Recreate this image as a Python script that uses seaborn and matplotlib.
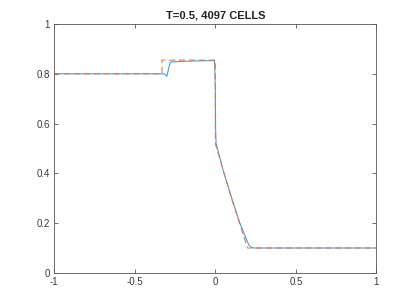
import matplotlib
matplotlib.use("Agg")
import matplotlib.pyplot as plt
import seaborn as sns
import pandas as pd

# numerical solution (4097 cells)
num_x = [-1.0, -0.32, -0.31, -0.305, -0.30, -0.29, -0.28, -0.27, -0.2, -0.1, -0.005,
         0.0, 0.002, 0.005, 0.05, 0.1, 0.15, 0.19, 0.21, 0.225, 0.24, 0.26, 1.0]
num_y = [0.8, 0.8, 0.797, 0.792, 0.79, 0.82, 0.845, 0.848, 0.85, 0.852, 0.853,
         0.75, 0.58, 0.52, 0.41, 0.305, 0.205, 0.14, 0.11, 0.103, 0.1, 0.1, 0.1]
# exact solution
ex_x = [-1.0, -0.33, -0.33, 0.0, 0.0, 0.05, 0.1, 0.15, 0.2, 1.0]
ex_y = [0.8, 0.8, 0.855, 0.855, 0.52, 0.41, 0.3, 0.2, 0.1, 0.1]

title = "T=0.5, 4097 CELLS"
xticks = [-1, -0.5, 0, 0.5, 1]
xticklabels = ["-1", "-0.5", "0", "0.5", "1"]
yticks = [0, 0.2, 0.4, 0.6, 0.8, 1]
yticklabels = ["0", "0.2", "0.4", "0.6", "0.8", "1"]

sns.set_theme(style="ticks")
plt.rcParams['font.family'] = ['Liberation Sans', 'DejaVu Sans']

df_num = pd.DataFrame({"x": num_x, "y": num_y})
df_ex = pd.DataFrame({"x": ex_x, "y": ex_y})

fig = plt.figure(figsize=(4.16, 3.08), dpi=100)
ax = fig.add_axes([0.13, 0.114, 0.775, 0.808])

sns.lineplot(data=df_num, x="x", y="y", sort=False, estimator=None, ax=ax,
             color="#3d9ae0", linewidth=0.75)
sns.lineplot(data=df_ex, x="x", y="y", sort=False, estimator=None, ax=ax,
             color="#e07545", linewidth=0.75, linestyle=(0, (6, 3.5)))

ax.set_xlim(-1, 1)
ax.set_ylim(0, 1)
ax.set_xticks(xticks)
ax.set_xticklabels(xticklabels)
ax.set_yticks(yticks)
ax.set_yticklabels(yticklabels)
ax.set_xlabel("")
ax.set_ylabel("")
ax.set_title(title, fontsize=8, fontweight="bold", pad=4, color="#222222")
for s in ax.spines.values():
    s.set_visible(True)
    s.set_color("#555555")
    s.set_linewidth(0.6)
ax.tick_params(direction="in", length=3, width=0.6, color="#555555",
               labelsize=7, labelcolor="#3a3a3a", top=True, right=True, pad=3)

fig.savefig("out.png", dpi=100)
